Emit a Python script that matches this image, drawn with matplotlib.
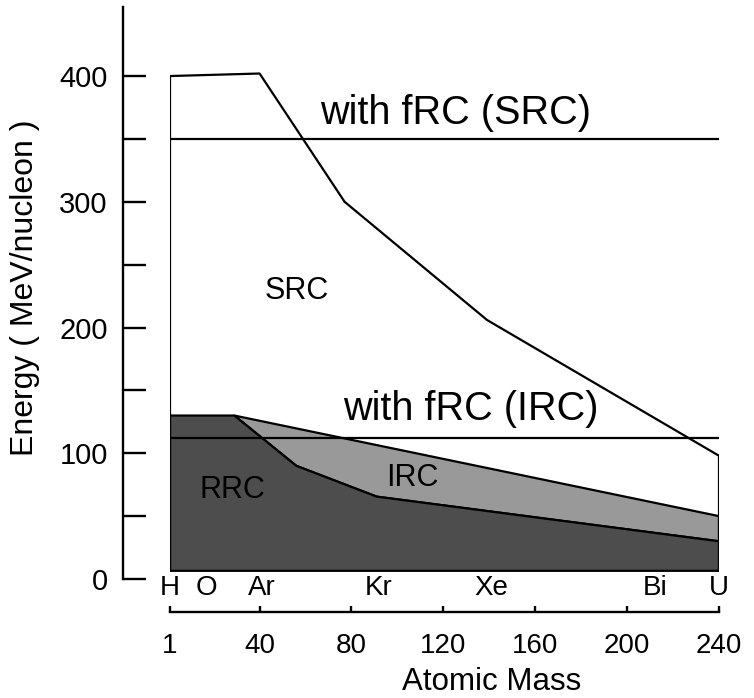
import matplotlib
matplotlib.use("Agg")
import matplotlib.pyplot as plt

plt.rcParams['font.family'] = ['Liberation Sans', 'DejaVu Sans']

# outer boundary of the SRC region (mass, MeV/nucleon)
src_mass = [1, 1, 40, 77, 139, 240, 240]
src_energy = [6.5, 400, 402, 300, 206, 98, 6.5]

# RRC region upper edge
rrc_mass = [1, 29, 56, 91, 240]
rrc_energy = [130, 130, 90, 65.5, 30]

# IRC region upper edge
irc_mass = [29, 240]
irc_energy = [130, 50]

base_energy = 6.5
frc_src = 350
frc_irc = 112

elements = ['H', 'O', 'Ar', 'Kr', 'Xe', 'Bi', 'U']
element_pos = [1, 17, 41, 92, 141, 212, 240]

xticks = [1, 40, 80, 120, 160, 200, 240]
yticks = [0, 100, 200, 300, 400]
yminor = [50, 150, 250, 350]

fig = plt.figure(figsize=(7.54, 6.98), dpi=100)
ax = fig.add_axes([170 / 754, (698 - 579) / 698, 549 / 754, 572 / 698])
ax.set_xlim(1, 240)
ax.set_ylim(0, 454.9)

# light IRC band between IRC edge and RRC edge
ax.fill(irc_mass + rrc_mass[:0:-1],
        irc_energy + rrc_energy[:0:-1],
        facecolor='#999999', edgecolor='black', lw=1.6, zorder=2)

# dark RRC region
ax.fill([rrc_mass[0]] + rrc_mass + [rrc_mass[-1]],
        [base_energy] + rrc_energy + [base_energy],
        facecolor='#4d4d4d', edgecolor='black', lw=1.6, zorder=2)

ax.plot(src_mass, src_energy, color='black', lw=1.6, zorder=3)
ax.hlines([frc_src, frc_irc], 1, 240, color='black', lw=1.6, zorder=3)

ax.text(66.5, 362, 'with fRC (SRC)', fontsize=28.5, ha='left', va='baseline')
ax.text(76.3, 126.4, 'with fRC (IRC)', fontsize=28.5, ha='left', va='baseline')
ax.text(56, 229, 'SRC', fontsize=22, ha='center', va='center')
ax.text(106.6, 80.7, 'IRC', fontsize=22, ha='center', va='center')
ax.text(28, 70.8, 'RRC', fontsize=22, ha='center', va='center')

for name, m in zip(elements, element_pos):
    ax.text(m, -12.7, name, fontsize=20, ha='center', va='baseline', clip_on=False)

for s in ['top', 'right']:
    ax.spines[s].set_visible(False)
ax.spines['left'].set_position(('outward', 33.8))
ax.spines['bottom'].set_position(('outward', 24.1))
ax.spines['left'].set_bounds(0, 454.9)
ax.spines['bottom'].set_bounds(1, 240)
ax.spines['left'].set_linewidth(1.7)
ax.spines['bottom'].set_linewidth(1.7)

ax.set_xticks(xticks)
ax.set_xticklabels([str(v) for v in xticks])
ax.set_yticks(yticks)
ax.set_yticks(yminor, minor=True)
ax.tick_params(axis='y', which='both', direction='in', length=16.5, width=1.7,
               labelsize=21, pad=11)
ax.tick_params(axis='x', direction='in', length=4.5, width=1.7, labelsize=20, pad=14.5)

fig.text(25 / 754, 1 - 287.5 / 698, 'Energy ( MeV/nucleon )', fontsize=23,
         rotation=90, ha='center', va='center')
fig.text(492 / 754, 1 / 698, 'Atomic Mass', fontsize=22.5, ha='center', va='bottom')

fig.savefig('out.png', dpi=100)
